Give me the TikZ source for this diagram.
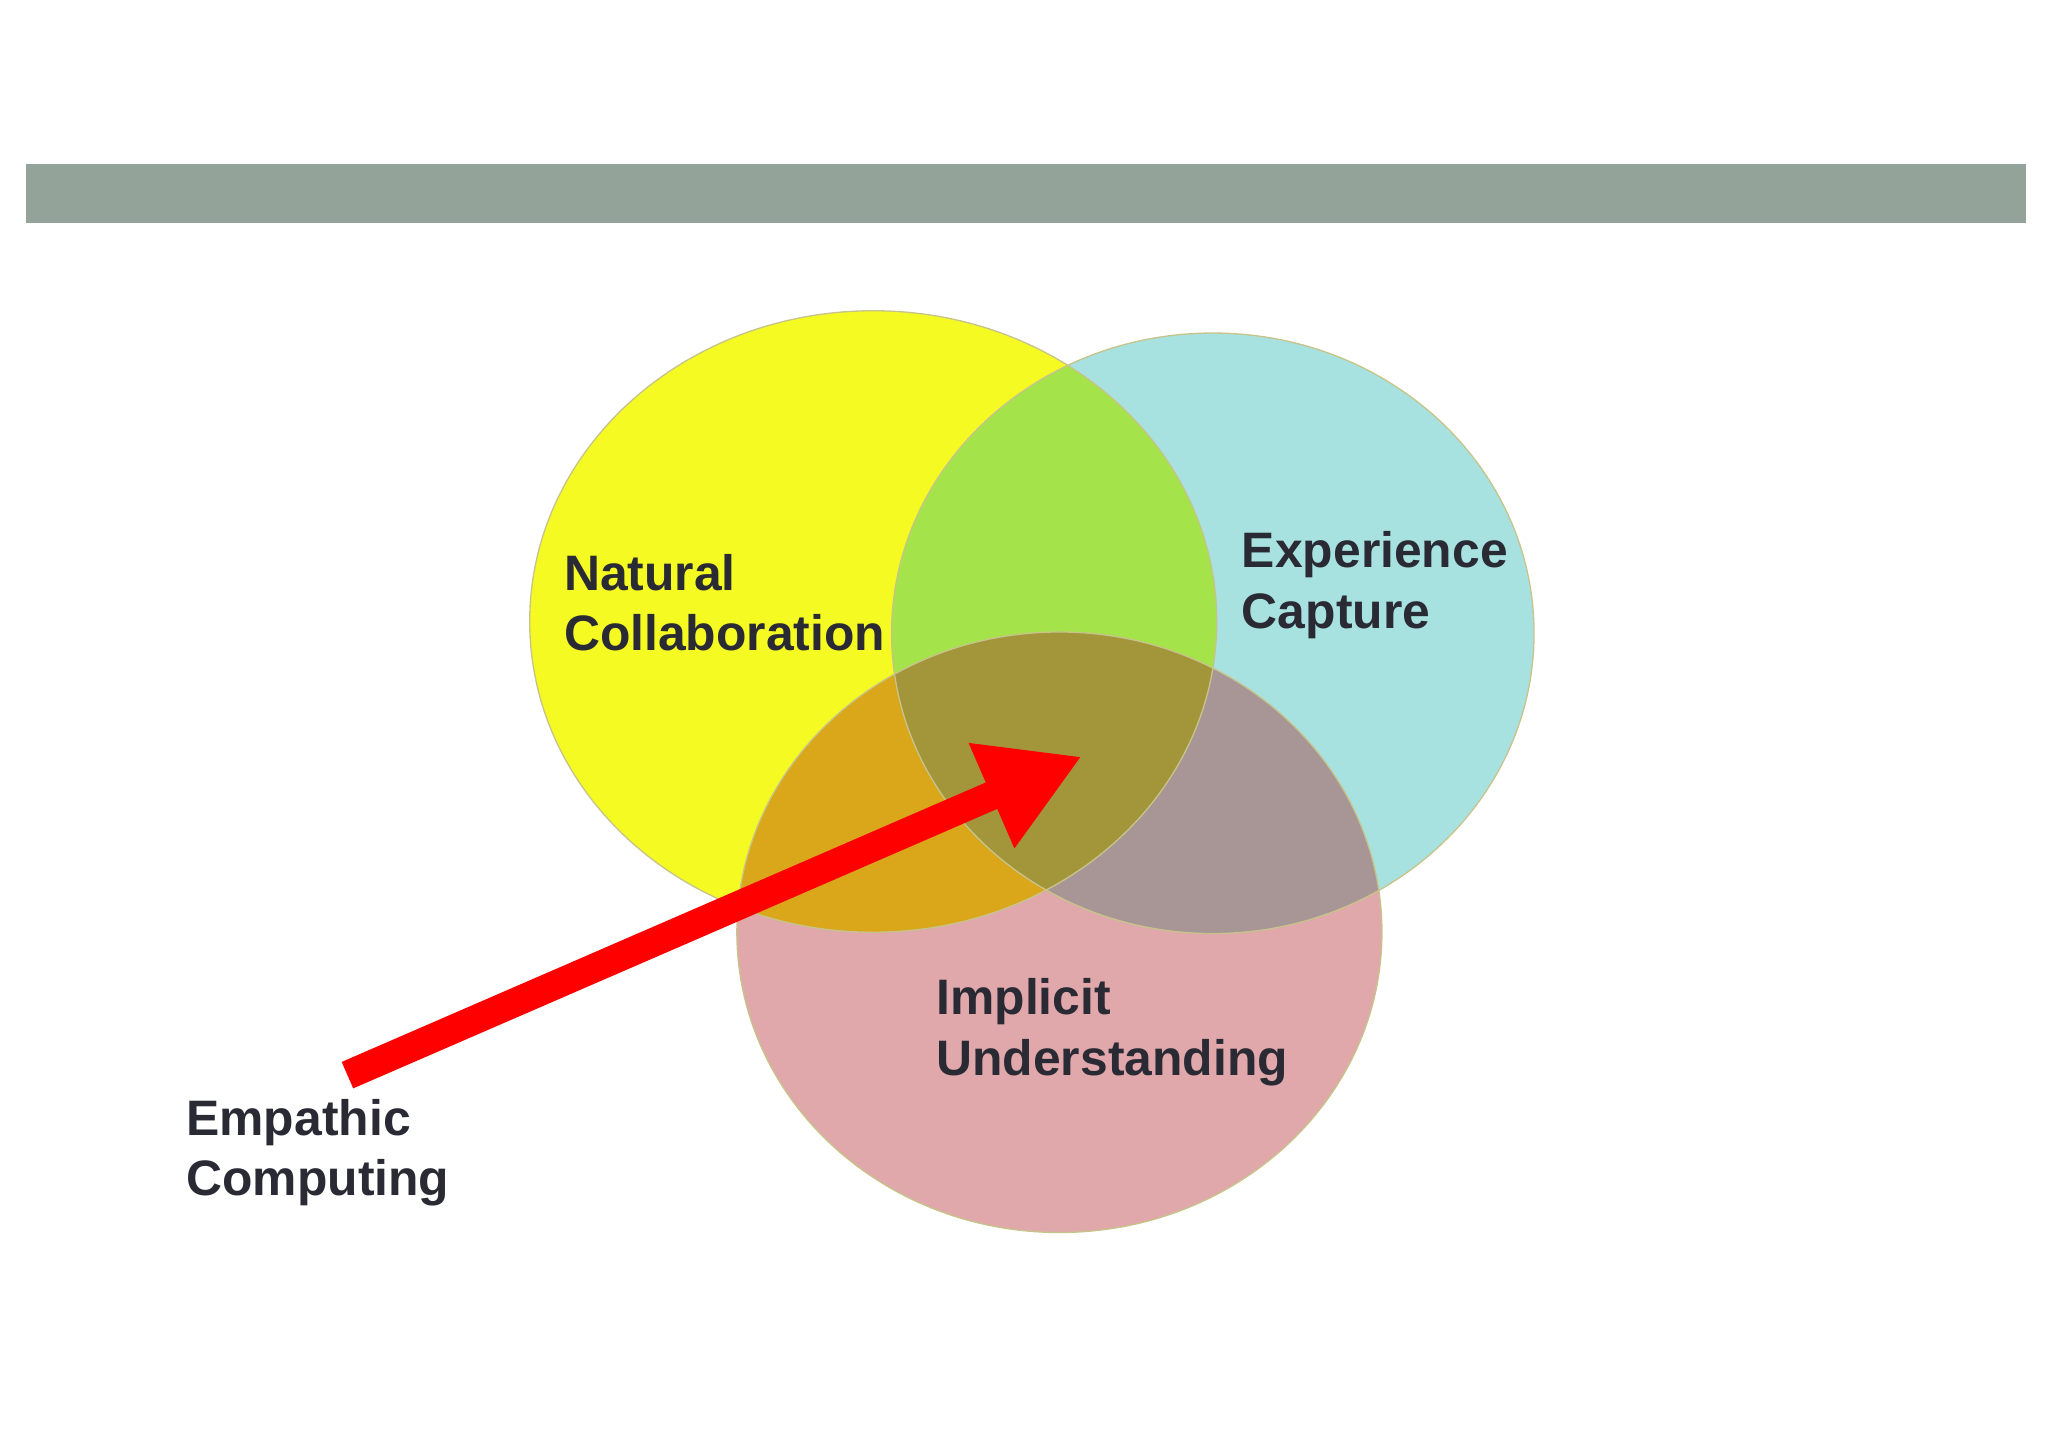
\documentclass[tikz,border=0pt]{standalone}
\usepackage{fontspec}
\setmainfont{Liberation Sans}
\usetikzlibrary{arrows.meta}
\definecolor{cY}{HTML}{F5FA23}
\definecolor{cC}{HTML}{A8E2E0}
\definecolor{cP}{HTML}{E0A8AA}
\definecolor{cYC}{HTML}{A4E34A}
\definecolor{cYP}{HTML}{DAA61A}
\definecolor{cCP}{HTML}{A89596}
\definecolor{cYCP}{HTML}{A3963A}
\definecolor{bar}{HTML}{93A399}
\definecolor{txt}{HTML}{2A2A35}
\tikzset{circ/.style={draw=black!25!olive!40,line width=1pt},
lab/.style={anchor=base west,align=left,font=\bfseries\fontsize{38}{46}\selectfont,text=txt,inner sep=0pt}}
\def\eY{(666,474) ellipse[x radius=262,y radius=237]}
\def\eC{(925,483) ellipse[x radius=245,y radius=229]}
\def\eP{(808,711) ellipse[x radius=246,y radius=229]}
\begin{document}
\begin{tikzpicture}[x=1pt,y=-1pt]
\useasboundingbox (0,0) rectangle (1562,1104);
\fill[bar] (20,125) rectangle (1545,170);
\fill[cY] \eY; \fill[cC] \eC; \fill[cP] \eP;
\begin{scope}\clip \eY; \fill[cYC] \eC; \fill[cYP] \eP; \end{scope}
\begin{scope}\clip \eC; \fill[cCP] \eP; \end{scope}
\begin{scope}\clip \eY; \clip \eC; \fill[cYCP] \eP; \end{scope}
\draw[circ] \eY; \draw[circ] \eC; \draw[circ] \eP;
\node[lab] (nc) at (430,496) {Natural\\Collaboration};
\node[lab] (ec) at (947,479) {Experience\\Capture};
\node[lab] (iu) at (714,820) {Implicit\\Understanding};
\node[lab] (em) at (142,912) {Empathic\\Computing};
\coordinate (s) at (265,820);
\coordinate (t) at (825,577);
\draw[red,line width=22pt,-{Triangle[length=75pt,width=82pt]}] (s) -- (t);
\end{tikzpicture}
\end{document}
